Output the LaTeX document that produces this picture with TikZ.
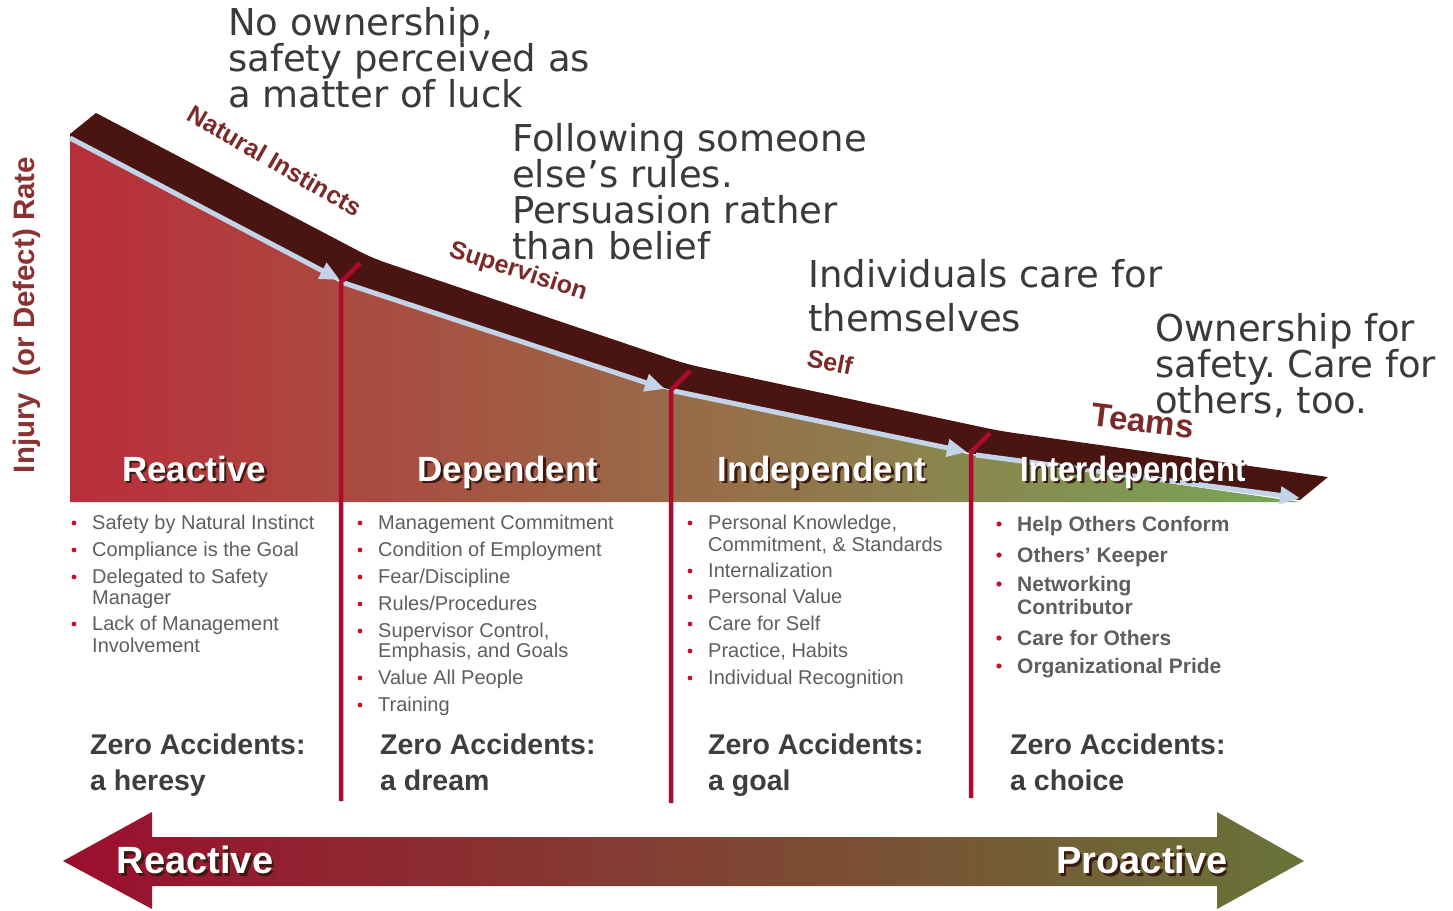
\documentclass[tikz,border=0pt]{standalone}
\usepackage{fontspec}
\setmainfont{Liberation Sans}
\newfontfamily\notefont{DejaVu Sans}
\usetikzlibrary{arrows.meta}
\frenchspacing

\definecolor{bandbrown}{HTML}{4A1511}
\definecolor{flowblue}{HTML}{C3D3E8}
\definecolor{dividerred}{HTML}{AC0A2E}
\definecolor{areared}{RGB}{186,46,58}
\definecolor{areamid}{RGB}{158,108,70}
\definecolor{areagreen}{RGB}{118,168,86}
\definecolor{phasered}{HTML}{7A2A28}
\definecolor{axisred}{HTML}{8A3232}
\definecolor{notegray}{HTML}{3A3A3A}
\definecolor{itemgray}{HTML}{5E5E5E}
\definecolor{bulletred}{HTML}{C8102E}
\definecolor{goalgray}{HTML}{3E3E3E}
\definecolor{shadowbrown}{HTML}{3A1A12}
\definecolor{scalered}{RGB}{155,14,46}
\definecolor{scalemid}{RGB}{136,76,46}
\definecolor{scalegreen}{RGB}{104,116,56}

\tikzset{
  note/.style={font=\notefont\fontsize{37}{37}\selectfont, text=notegray, anchor=base west, inner sep=0},
  phase/.style={font=\bfseries\fontsize{25}{25}\selectfont, text=phasered, inner sep=0},
  stage/.style={font=\bfseries\fontsize{35}{35}\selectfont, text=white, anchor=base, inner sep=0},
  item/.style={font=\fontsize{20}{20}\selectfont, text=itemgray, anchor=base west, inner sep=0},
  teamitem/.style={font=\bfseries\fontsize{21}{21}\selectfont, text=itemgray, anchor=base west, inner sep=0},
  goal/.style={font=\bfseries\fontsize{28.5}{28.5}\selectfont, text=goalgray, anchor=base west, inner sep=0},
  flow/.style={line width=5pt, flowblue, -{Triangle[length=20pt,width=17pt]}},
  divider/.style={line width=4.5pt, dividerred},
}

\begin{document}
\begin{tikzpicture}[x=1pt, y=-1pt]
  \useasboundingbox (0,0) rectangle (1453,910);

  % falling rate area and band
  \shade[left color=areared, middle color=areamid, right color=areagreen]
    (70,140) -- (341,283) -- (671,391) -- (972,455) -- (1300,502) -- (70,502) -- cycle;
  \fill[bandbrown] (70,134) -- (96,113) [rounded corners=14pt] -- (372,258) -- (686,364) -- (1000,431)
    [sharp corners] -- (1328,477) -- (1300,500) -- (975,454) -- (671,390) -- (341,281) -- (70,139) -- cycle;

  \draw[flow] (70,138) -- (340,280);
  \draw[flow] (344,283) -- (665,389);
  \draw[flow] (674,391) -- (967,452);
  \draw[flow] (976,455) -- (1300,498);

  % phase dividers
  \foreach \x/\top/\bot in {341/282/801, 671/390/803, 971/452/798}
    \draw[divider] (\x,\bot) -- (\x,\top) -- (\x+19,\top-19);

  \node[rotate=90, font=\bfseries\fontsize{29.5}{29.5}\selectfont, text=axisred] (ratelabel) at (27,315) {Injury\ \ (or Defect) Rate};

  \node[phase, rotate=-30] (natural) at (275,161) {Natural Instincts};
  \node[phase, rotate=-18] (supervision) at (518,272) {Supervision};
  \node[phase, rotate=-11] (self) at (830,362) {Self};
  \node[phase, rotate=-7, font=\bfseries\fontsize{33}{33}\selectfont] (teams) at (1143,421) {Teams};

  % stage names
  \foreach \x/\t/\s [count=\i] in {194/Reactive/1, 508/Dependent/1, 822/Independent/1, 1133/Interdependent/.89} {
    \node[stage, text=shadowbrown, xscale=\s] (stageshadow\i) at (\x+2.5,483.5) {\t};
    \node[stage, xscale=\s] (stage\i) at (\x,481) {\t};
  }

  % notes above the curve
  \foreach \t [count=\i] in {{No ownership,}, safety perceived as, a matter of luck}
    \node[note] (luck\i) at (228,35+36*\i-36) {\t};
  \foreach \t [count=\i] in {Following someone, else’s rules., Persuasion rather, than belief}
    \node[note] (rules\i) at (512,151+36*\i-36) {\t};
  \foreach \t [count=\i] in {Individuals care for, themselves}
    \node[note] (care\i) at (808,287+44*\i-44) {\t};
  \foreach \t [count=\i] in {Ownership for, safety. Care for, {others, too.}}
    \node[note] (own\i) at (1155,341+36*\i-36) {\t};

  % lists
  \foreach \y/\t/\b in {529/Safety by Natural Instinct/1, 556/Compliance is the Goal/1, 583/Delegated to Safety/1,
      604/Manager/0, 630/Lack of Management/1, 652/Involvement/0} {
    \ifnum\b=1 \fill[bulletred] (74,\y-6) circle (2.4pt); \fi
    \node[item] (react\y) at (92,\y) {\t};
  }
  \foreach \y/\t/\b in {529/Management Commitment/1, 556/Condition of Employment/1, 583/Fear\slash Discipline/1,
      610/Rules\slash Procedures/1, {637/Supervisor Control,/1}, {657/Emphasis, and Goals/0}, 684/Value All People/1,
      711/Training/1} {
    \ifnum\b=1 \fill[bulletred] (360,\y-6) circle (2.4pt); \fi
    \node[item] (dep\y) at (378,\y) {\t};
  }
  \foreach \y/\t/\b in {{529/Personal Knowledge,/1}, {551/Commitment, \& Standards/0}, 577/Internalization/1,
      603/Personal Value/1, 630/Care for Self/1, {657/Practice, Habits/1}, 684/Individual Recognition/1} {
    \ifnum\b=1 \fill[bulletred] (690,\y-6) circle (2.4pt); \fi
    \node[item] (indep\y) at (708,\y) {\t};
  }
  \foreach \y/\t/\b in {531/Help Others Conform/1, 562/Others’ Keeper/1, 591/Networking/1, 614/Contributor/0,
      645/Care for Others/1, 673/Organizational Pride/1} {
    \ifnum\b=1 \fill[bulletred] (999,\y-7) circle (2.6pt); \fi
    \node[teamitem] (inter\y) at (1017,\y) {\t};
  }

  % zero accidents
  \foreach \x/\t [count=\i] in {90/a heresy, 380/a dream, 708/a goal, 1010/a choice} {
    \node[goal] (zero\i) at (\x,754) {Zero Accidents:};
    \node[goal] (zeroview\i) at (\x,790) {\t};
  }

  % reactive to proactive scale
  \shade[left color=scalered, middle color=scalemid, right color=scalegreen]
    (63,861) -- (152,812) -- (152,837) -- (1217,837) -- (1217,812) -- (1304,861)
    -- (1217,909) -- (1217,886) -- (152,886) -- (152,909) -- cycle;
  \node[font=\bfseries\fontsize{38}{38}\selectfont, text=shadowbrown, inner sep=0] (reactshadow) at (197.5,862.5) {Reactive};
  \node[font=\bfseries\fontsize{38}{38}\selectfont, text=white, inner sep=0] (reactend) at (195,860) {Reactive};
  \node[font=\bfseries\fontsize{38}{38}\selectfont, text=shadowbrown, inner sep=0] (proshadow) at (1144.5,862.5) {Proactive};
  \node[font=\bfseries\fontsize{38}{38}\selectfont, text=white, inner sep=0] (proend) at (1142,860) {Proactive};
\end{tikzpicture}
\end{document}
